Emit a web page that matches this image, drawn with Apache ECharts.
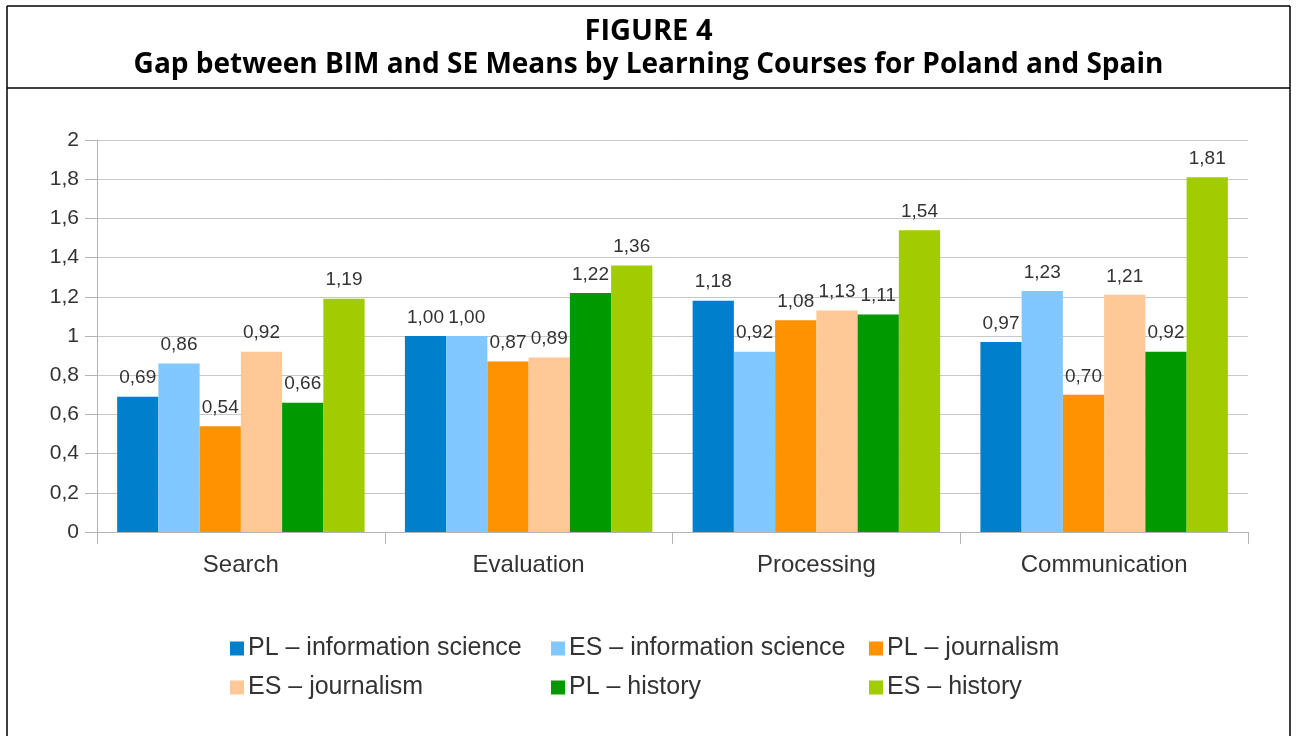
<!DOCTYPE html>
<html>
<head>
    <meta charset="utf-8">
    <title>Figure 4</title>
    <script src="https://cdn.jsdelivr.net/npm/echarts@6/dist/echarts.min.js"></script>
    <style type="text/css">
        html, body {margin:0; padding:0; background:#fff; overflow:hidden;}
    </style>
</head>
<body>
<div id="container" style="width:1297px;height:736px;"></div>
<script type="text/javascript">
    // categories and series
    var categories = ['Search', 'Evaluation', 'Processing', 'Communication'];
    var seriesNames = [
        'PL \u2013 information science',
        'ES \u2013 information science',
        'PL \u2013 journalism',
        'ES \u2013 journalism',
        'PL \u2013 history',
        'ES \u2013 history'
    ];
    var plInfo = [0.69, 1.00, 1.18, 0.97];
    var esInfo = [0.86, 1.00, 0.92, 1.23];
    var plJour = [0.54, 0.87, 1.08, 0.70];
    var esJour = [0.92, 0.89, 1.13, 1.21];
    var plHist = [0.66, 1.22, 1.11, 0.92];
    var esHist = [1.19, 1.36, 1.54, 1.81];
    var colors = ['#0080cc', '#80c8ff', '#ff9200', '#ffc896', '#009a00', '#a0cc00'];

    var allData = [plInfo, esInfo, plJour, esJour, plHist, esHist];

    function comma(v, digits) {
        return (digits == null ? String(v) : v.toFixed(digits)).replace('.', ',');
    }

    var dom = document.getElementById('container');
    var chart = echarts.init(dom);

    var series = [];
    for (var i = 0; i < allData.length; i++) {
        series.push({
            name: seriesNames[i],
            type: 'bar',
            data: allData[i],
            barGap: 0,
            barCategoryGap: '14%',
            itemStyle: {color: colors[i]},
            label: {
                show: true,
                position: 'top',
                distance: 9,
                color: '#333',
                fontFamily: 'Liberation Sans',
                fontSize: 19,
                formatter: function (p) { return comma(p.value, 2); }
            }
        });
    }

    // one legend per slot, placed like the original two-row layout
    var legendLeft = [225, 546, 864, 225, 546, 864];
    var legendTop = [631, 631, 631, 670, 670, 670];
    var legends = [];
    for (var j = 0; j < seriesNames.length; j++) {
        legends.push({
            data: [seriesNames[j]],
            left: legendLeft[j],
            top: legendTop[j],
            icon: 'rect',
            itemWidth: 14,
            itemHeight: 14,
            itemGap: 0,
            textStyle: {
                color: '#333',
                fontFamily: 'Liberation Sans',
                fontSize: 25,
                padding: [0, 0, 0, -1]
            },
            selectedMode: false
        });
    }

    var option = {
        animation: false,
        backgroundColor: '#fff',
        title: [{
            text: 'FIGURE 4',
            left: 'center',
            top: 12,
            textStyle: {fontFamily: 'Open Sans', fontWeight: 'bold', fontSize: 29, color: '#000'}
        }, {
            text: 'Gap between BIM and SE Means by Learning Courses for Poland and Spain',
            left: 'center',
            top: 46,
            textStyle: {fontFamily: 'Open Sans', fontWeight: 'bold', fontSize: 28, color: '#000'}
        }],
        graphic: [
            {type: 'line', shape: {x1: 7, y1: 6, x2: 1290, y2: 6}, style: {stroke: '#000', lineWidth: 1.5}},
            {type: 'line', shape: {x1: 7, y1: 6, x2: 7, y2: 736}, style: {stroke: '#000', lineWidth: 1.5}},
            {type: 'line', shape: {x1: 1290, y1: 6, x2: 1290, y2: 736}, style: {stroke: '#000', lineWidth: 1.5}},
            {type: 'line', shape: {x1: 7, y1: 88, x2: 1290, y2: 88}, style: {stroke: '#000', lineWidth: 1.5}}
        ],
        legend: legends,
        grid: {left: 97, right: 49, top: 140, bottom: 204},
        xAxis: {
            type: 'category',
            data: categories,
            axisLine: {lineStyle: {color: '#b3b3b3'}},
            axisTick: {show: true, length: 12, lineStyle: {color: '#b3b3b3'}},
            axisLabel: {color: '#333', fontFamily: 'Liberation Sans', fontSize: 24, margin: 21}
        },
        yAxis: {
            type: 'value',
            min: 0,
            max: 2,
            interval: 0.2,
            axisLine: {show: true, lineStyle: {color: '#b3b3b3'}},
            axisTick: {show: true, length: 12, lineStyle: {color: '#b3b3b3'}},
            splitLine: {lineStyle: {color: '#c8c8c8'}},
            axisLabel: {
                color: '#333',
                fontFamily: 'Liberation Sans',
                fontSize: 21,
                margin: 18,
                formatter: function (v) { return comma(Math.round(v * 10) / 10); }
            }
        },
        series: series
    };

    chart.setOption(option);
</script>
</body>
</html>
